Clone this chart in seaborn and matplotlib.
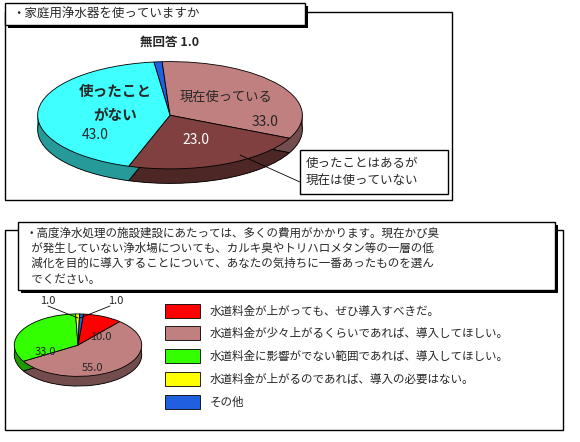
import matplotlib
matplotlib.use("Agg")
import matplotlib.pyplot as plt
import matplotlib.patches as mp
import matplotlib.colors as mc
import seaborn as sns

sns.set_style("white")
plt.rcParams['font.family'] = ['Noto Sans CJK JP', 'DejaVu Sans']

q1_labels = ["無回答", "現在使っている", "使ったことはあるが現在は使っていない", "使ったことがない"]
q1_values = [1.0, 33.0, 23.0, 43.0]
q1_colors = ["#2060E0", "#C08080", "#804040", "#40FFFF"]

q2_labels = ["水道料金が上がっても、ぜひ導入すべきだ。",
             "水道料金が少々上がるくらいであれば、導入してほしい。",
             "水道料金に影響がでない範囲であれば、導入してほしい。",
             "水道料金が上がるのであれば、導入の必要はない。",
             "その他"]
q2_values = [10.0, 55.0, 33.0, 1.0, 1.0]
q2_colors = ["#FF0000", "#C08080", "#33FF00", "#FFFF00", "#2060E0"]

W, H = 580, 442
fig = plt.figure(figsize=(W/100, H/100), dpi=100)

def fr(x, y, w, h):
    return [x/W, 1-(y+h)/H, w/W, h/H]

def pie3d(rect, vals, cols, start, depth):
    ax = fig.add_axes(rect)
    dark = [tuple(c*0.6 for c in mc.to_rgb(k)) for k in cols]
    n = 20
    for i in range(n, 0, -1):
        off = -depth*i/n
        ax.pie(vals, colors=dark, startangle=start, counterclock=False,
               center=(0, off), radius=1, wedgeprops=dict(linewidth=0))
    ax.pie(vals, colors=dark, startangle=start, counterclock=False,
           center=(0, -depth), wedgeprops=dict(edgecolor='black', linewidth=0.6))
    ax.pie(vals, colors=cols, startangle=start, counterclock=False,
           wedgeprops=dict(edgecolor='black', linewidth=0.6))
    ax.set_aspect('auto')
    ax.set_xlim(-1.02, 1.02)
    ax.set_ylim(-1 - depth - 0.03, 1.03)
    ax.axis('off')
    return ax

def box(x, y, w, h, lw=1.0, shadow=False):
    if shadow:
        fig.add_artist(mp.Rectangle((( x+3)/W, 1-(y+h+3)/H), w/W, h/H,
                       transform=fig.transFigure, facecolor='black', edgecolor='none'))
    fig.add_artist(mp.Rectangle((x/W, 1-(y+h)/H), w/W, h/H, transform=fig.transFigure,
                   facecolor='white' if shadow else 'none', edgecolor='black', linewidth=lw))

def t(x, y, s, **kw):
    fig.text(x/W, 1-y/H, s, **kw)

# frames
box(5, 12, 447, 188)
box(5, 230, 558, 200)

pie3d(fr(35, 60, 270, 125), q1_values, q1_colors, 97, 0.27)
pie3d(fr(13, 313, 130, 74), q2_values, q2_colors, 85, 0.31)

box(5, 3, 300, 22, shadow=True)
t(12, 14, "・家庭用浄水器を使っていますか", fontsize=9, va='center')

t(140, 42, "無回答 1.0", fontsize=9, fontweight='bold', va='center')
t(115, 103, "使ったこと\nがない", fontsize=10.5, fontweight='bold', va='center', ha='center', linespacing=1.6)
t(82, 135, "43.0", fontsize=10, va='center')
t(180, 97, "現在使っている", fontsize=9.5, va='center')
t(252, 122, "33.0", fontsize=10, va='center')
t(182, 140, "23.0", fontsize=10, va='center', color='white')
fig.add_artist(plt.Line2D([240/W, 300/W], [1-155/H, 1-182/H], transform=fig.transFigure,
                          color='black', linewidth=0.6))
box(300, 150, 148, 44)
t(306, 172, "使ったことはあるが\n現在は使っていない", fontsize=9, va='center', linespacing=1.5)

box(18, 222, 537, 68, shadow=True)
t(26, 256, "・高度浄水処理の施設建設にあたっては、多くの費用がかかります。現在かび臭\n  が発生していない浄水場についても、カルキ臭やトリハロメタン等の一層の低\n  減化を目的に導入することについて、あなたの気持ちに一番あったものを選ん\n  でください。",
  fontsize=8.3, va='center', linespacing=1.25)

t(90, 337, "10.0", fontsize=8, va='center')
t(82, 368, "55.0", fontsize=8, va='center')
t(35, 352, "33.0", fontsize=8, va='center')
t(40, 301, "1.0", fontsize=8, va='center')
t(108, 301, "1.0", fontsize=8, va='center')
fig.add_artist(plt.Line2D([48/W, 78/W], [1-306/H, 1-318/H], transform=fig.transFigure, color='black', linewidth=0.6))
fig.add_artist(plt.Line2D([110/W, 80/W], [1-306/H, 1-318/H], transform=fig.transFigure, color='black', linewidth=0.6))

ys = [311, 333, 356, 379, 402]
for y, c, lab in zip(ys, q2_colors, q2_labels):
    fig.add_artist(mp.Rectangle((165/W, 1-(y+7)/H), 35/W, 14/H, transform=fig.transFigure,
                   facecolor=c, edgecolor='black', linewidth=0.6))
    t(210, y, lab, fontsize=8.3, va='center')

fig.savefig("out.png", dpi=100)
